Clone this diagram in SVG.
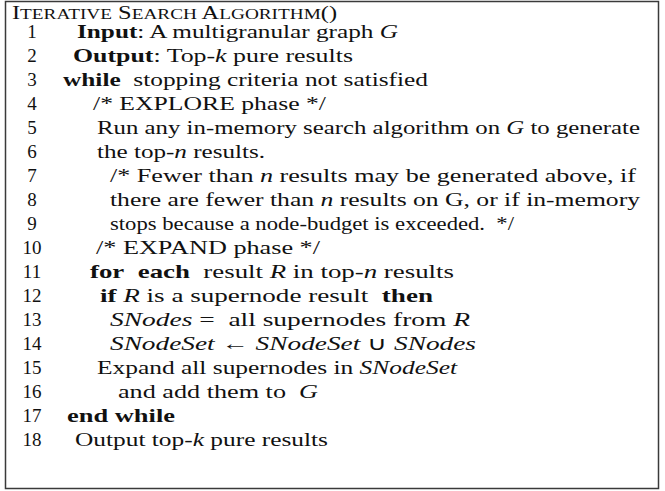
<svg xmlns="http://www.w3.org/2000/svg" width="665" height="491" viewBox="0 0 665 491">
<style>
text{font-family:"Liberation Serif","Times New Roman",serif;font-size:19px;fill:#111;white-space:pre}
.n{text-anchor:middle}
.b{font-weight:bold}
.i{font-style:italic}
.sc{font-size:15px}
</style>
<rect x="0" y="0" width="665" height="491" fill="#fff"/>
<rect x="5.5" y="1.5" width="653" height="487" fill="none" stroke="#3a3a3a" stroke-width="1.5"/>
<g id="algorithm">
<text x="12" y="19" textLength="325" lengthAdjust="spacingAndGlyphs">I<tspan class="sc">TERATIVE</tspan> S<tspan class="sc">EARCH</tspan> A<tspan class="sc">LGORITHM</tspan>()</text>
<text class="n" x="32" y="38">1</text><text x="77" y="38" textLength="321" lengthAdjust="spacingAndGlyphs"><tspan class="b">Input</tspan>: A multigranular graph <tspan class="i">G</tspan></text>
<text class="n" x="32" y="62">2</text><text x="73" y="62" textLength="280" lengthAdjust="spacingAndGlyphs"><tspan class="b">Output</tspan>: Top-<tspan class="i">k</tspan> pure results</text>
<text class="n" x="32" y="86">3</text><text x="63" y="86" textLength="365" lengthAdjust="spacingAndGlyphs"><tspan class="b">while</tspan>  stopping criteria not satisfied</text>
<text class="n" x="32" y="110">4</text><text x="93" y="110" textLength="233" lengthAdjust="spacingAndGlyphs">/* EXPLORE phase */</text>
<text class="n" x="32" y="134">5</text><text x="97" y="134" textLength="543" lengthAdjust="spacingAndGlyphs">Run any in-memory search algorithm on <tspan class="i">G</tspan> to generate</text>
<text class="n" x="32" y="158">6</text><text x="97" y="158" textLength="168" lengthAdjust="spacingAndGlyphs">the top-<tspan class="i">n</tspan> results.</text>
<text class="n" x="32" y="182">7</text><text x="110" y="182" textLength="526" lengthAdjust="spacingAndGlyphs">/* Fewer than <tspan class="i">n</tspan> results may be generated above, if</text>
<text class="n" x="32" y="206">8</text><text x="110" y="206" textLength="530" lengthAdjust="spacingAndGlyphs">there are fewer than <tspan class="i">n</tspan> results on G, or if in-memory</text>
<text class="n" x="32" y="230">9</text><text x="110" y="230" textLength="404" lengthAdjust="spacingAndGlyphs">stops because a node-budget is exceeded.  */</text>
<text class="n" x="32" y="254">10</text><text x="96" y="254" textLength="224" lengthAdjust="spacingAndGlyphs">/* EXPAND phase */</text>
<text class="n" x="32" y="278">11</text><text x="90" y="278" textLength="364" lengthAdjust="spacingAndGlyphs"><tspan class="b">for</tspan>  <tspan class="b">each</tspan>  result <tspan class="i">R</tspan> in top-<tspan class="i">n</tspan> results</text>
<text class="n" x="32" y="302">12</text><text x="100" y="302" textLength="333" lengthAdjust="spacingAndGlyphs"><tspan class="b">if</tspan> <tspan class="i">R</tspan> is a supernode result  <tspan class="b">then</tspan></text>
<text class="n" x="32" y="326">13</text><text x="110" y="326" textLength="360" lengthAdjust="spacingAndGlyphs"><tspan class="i">SNodes</tspan> =  all supernodes from <tspan class="i">R</tspan></text>
<text class="n" x="32" y="350">14</text><text x="110" y="350" textLength="366" lengthAdjust="spacingAndGlyphs"><tspan class="i">SNodeSet</tspan> ← <tspan class="i">SNodeSet</tspan> ∪ <tspan class="i">SNodes</tspan></text>
<text class="n" x="32" y="374">15</text><text x="97" y="374" textLength="360" lengthAdjust="spacingAndGlyphs">Expand all supernodes in <tspan class="i">SNodeSet</tspan></text>
<text class="n" x="32" y="398">16</text><text x="118" y="398" textLength="200" lengthAdjust="spacingAndGlyphs">and add them to  <tspan class="i">G</tspan></text>
<text class="n" x="32" y="422">17</text><text x="67" y="422" class="b" textLength="108" lengthAdjust="spacingAndGlyphs">end while</text>
<text class="n" x="32" y="446">18</text><text x="75" y="446" textLength="253" lengthAdjust="spacingAndGlyphs">Output top-<tspan class="i">k</tspan> pure results</text>
</g>
</svg>
